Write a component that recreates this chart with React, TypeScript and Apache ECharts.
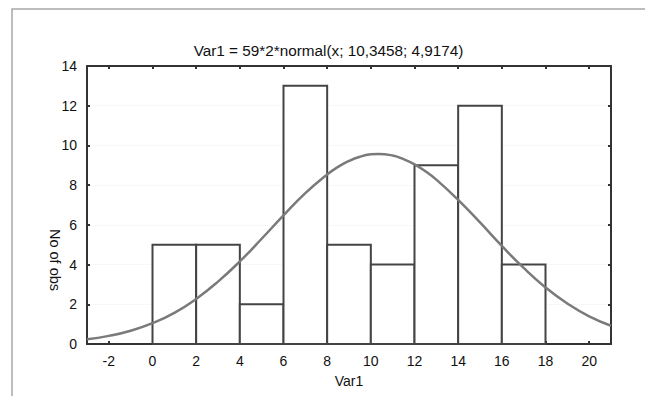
import React, { useEffect, useRef } from "react";
import * as echarts from "echarts";

const titleText = "Var1 = 59*2*normal(x; 10,3458; 4,9174)";
const xName = "Var1";
const yName = "No of obs";

// histogram bins (lower edges) and counts, bin width 2
const binStarts = [0, 2, 4, 6, 8, 10, 12, 14, 16];
const binWidth = 2;
const counts = [5, 5, 2, 13, 5, 4, 9, 12, 4];

// fitted normal curve
const curveX = [-3, -2, -1, 0, 1, 2, 3, 4, 5, 6, 7, 8, 8.5, 9, 9.5, 10, 10.35, 11, 11.5, 12, 12.5, 13, 14, 15, 16, 17, 18, 19, 20, 21];
const curveY = [0.24, 0.41, 0.67, 1.05, 1.57, 2.27, 3.14, 4.16, 5.3, 6.48, 7.6, 8.54, 8.92, 9.22, 9.43, 9.55, 9.573, 9.49, 9.31, 9.05, 8.7, 8.28, 7.26, 6.12, 4.94, 3.83, 2.85, 2.04, 1.39, 0.92];

const xTicks = [-2, 0, 2, 4, 6, 8, 10, 12, 14, 16, 18, 20];

const FONT = "'Liberation Sans', Arial, sans-serif";

export default function App() {
  const ref = useRef<HTMLDivElement>(null);
  useEffect(() => {
    if (!ref.current) return;
    const chart = echarts.init(ref.current, null, { renderer: "svg" });
    const histData = binStarts.map((s, i) => [s, s + binWidth, counts[i]]);
    const axisLineStyle = { color: "#333", width: 2 };
    const tickStyle = { show: true, inside: true, length: 3, lineStyle: { color: "#333", width: 2 } };
    chart.setOption({
      animation: false,
      backgroundColor: "#fff",
      textStyle: { fontFamily: FONT },
      title: {
        text: titleText,
        left: 323.5,
        textAlign: "center",
        top: 38,
        textStyle: { fontSize: 15.3, fontWeight: "normal", color: "#111", fontFamily: FONT },
      },
      grid: { left: 87, right: 34, top: 66, bottom: 52 },
      xAxis: [
        {
          type: "value",
          min: -3,
          max: 21,
          position: "bottom",
          name: xName,
          nameLocation: "middle",
          nameGap: 30,
          nameTextStyle: { fontSize: 14, color: "#111", fontFamily: FONT },
          axisLine: { show: true, onZero: false, lineStyle: axisLineStyle },
          axisTick: { ...tickStyle, customValues: xTicks },
          axisLabel: { customValues: xTicks, fontSize: 14, color: "#111", margin: 10, fontFamily: FONT },
          splitLine: { show: false },
        },
        {
          type: "value",
          min: -3,
          max: 21,
          position: "top",
          axisLine: { show: true, onZero: false, lineStyle: axisLineStyle },
          axisTick: { ...tickStyle, customValues: xTicks },
          axisLabel: { show: false },
          splitLine: { show: false },
        },
      ],
      yAxis: [
        {
          type: "value",
          min: 0,
          max: 14,
          interval: 2,
          position: "left",
          axisLine: { show: true, onZero: false, lineStyle: axisLineStyle },
          axisTick: tickStyle,
          axisLabel: { fontSize: 14, color: "#111", margin: 10, fontFamily: FONT },
          splitLine: { show: true, lineStyle: { color: "#f0f0f0", type: "dotted", width: 1 } },
        },
        {
          type: "value",
          min: 0,
          max: 14,
          interval: 2,
          position: "right",
          axisLine: { show: true, onZero: false, lineStyle: axisLineStyle },
          axisTick: tickStyle,
          axisLabel: { show: false },
          splitLine: { show: false },
        },
      ],
      graphic: [
        {
          type: "rect",
          shape: { x: 12, y: 9, width: 800, height: 600 },
          style: { fill: "none", stroke: "#a8a8a8", lineWidth: 1.5 },
          silent: true,
          z: -1,
        },
        {
          type: "text",
          x: 55,
          y: 260,
          rotation: -Math.PI / 2,
          style: {
            text: yName,
            fontSize: 14.5,
            fontFamily: FONT,
            fill: "#111",
            textAlign: "center",
            textVerticalAlign: "middle",
          },
        },
      ],
      series: [
        {
          type: "custom",
          xAxisIndex: 0,
          yAxisIndex: 0,
          data: histData,
          z: 2,
          renderItem: (params: any, api: any) => {
            const p0 = api.coord([api.value(0), api.value(2)]);
            const p1 = api.coord([api.value(1), 0]);
            return {
              type: "rect",
              shape: { x: p0[0], y: p0[1], width: p1[0] - p0[0], height: p1[1] - p0[1] },
              style: { fill: "#fff", stroke: "#444", lineWidth: 2 },
            };
          },
        },
        {
          type: "line",
          xAxisIndex: 0,
          yAxisIndex: 0,
          data: curveX.map((x, i) => [x, curveY[i]]),
          smooth: true,
          showSymbol: false,
          symbol: "none",
          z: 3,
          lineStyle: { color: "#7a7a7a", width: 2.5 },
        },
      ],
    });
    return () => chart.dispose();
  }, []);
  return (
    <div
      ref={ref}
      style={{ position: "absolute", left: 0, top: 0, width: 645, height: 396, background: "#fff" }}
    />
  );
}
